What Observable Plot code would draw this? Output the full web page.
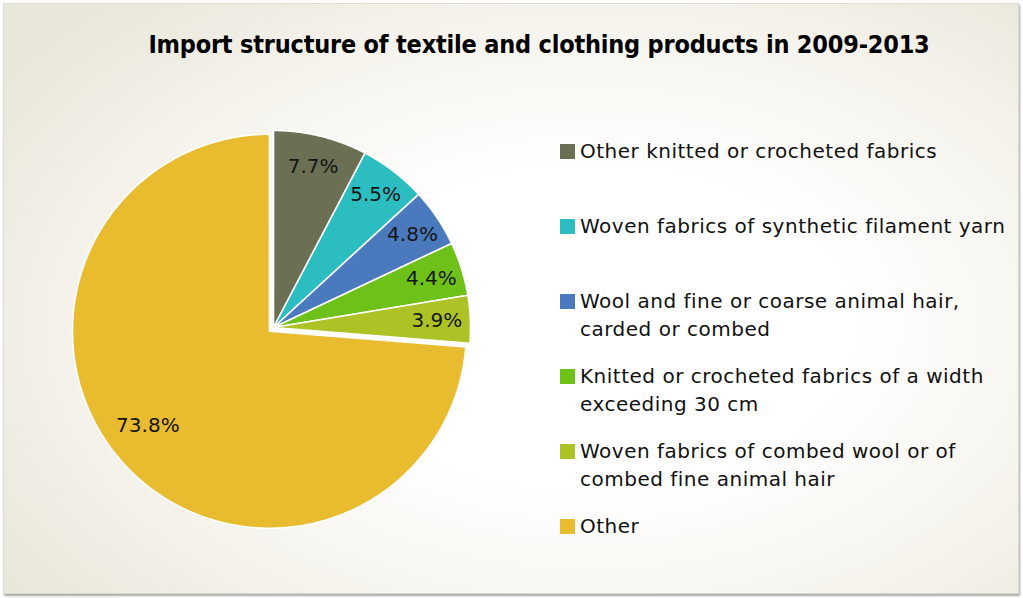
<!DOCTYPE html>
<html>
<head>
<meta charset="utf-8">
<script src="https://cdn.jsdelivr.net/npm/d3@7"></script>
<script src="https://cdn.jsdelivr.net/npm/@observablehq/plot@0.6"></script>
<style>
  html, body { margin: 0; padding: 0; background: #ffffff; }
  #wrap { position: relative; width: 1023px; height: 598px; overflow: hidden; }
  #frame {
    position: absolute; left: 3px; top: 3px; width: 1014px; height: 589px;
    border: 1px solid #dcdad2;
    background: radial-gradient(ellipse 70% 75% at 58% 55%, #ffffff 35%, #f5f3ec 70%, #e9e6da 100%);
    box-shadow: 1px 2px 2px rgba(0,0,0,0.35);
  }
  #title {
    position: absolute; left: 0; width: 1078px; top: 30px; text-align: center;
    font-family: "Liberation Sans Narrow", "DejaVu Sans Condensed", "Liberation Sans", sans-serif;
    font-weight: bold; font-size: 25px; color: #000; white-space: nowrap; letter-spacing: -0.2px;
  }
  #chart { position: absolute; left: 0; top: 0; }
  #legend { position: absolute; left: 560px; top: 138px; font-family: "DejaVu Sans", sans-serif; font-size: 20px; letter-spacing: 0.5px; color: #111; }
  .item { position: relative; height: 75px; line-height: 27.5px; padding-left: 20px; white-space: nowrap; }
  .sw { position: absolute; left: 0; top: 6px; width: 15px; height: 15px; }
</style>
</head>
<body>
<div id="wrap">
  <div id="frame"></div>
  <div id="chart"></div>
  <div id="title">Import structure of textile and clothing products in 2009-2013</div>
  <div id="legend"></div>
</div>
<script>
// ---- data ----
const categories = [
  "Other knitted or crocheted fabrics",
  "Woven fabrics of synthetic filament yarn",
  "Wool and fine or coarse animal hair, carded or combed",
  "Knitted or crocheted fabrics of a width exceeding 30 cm",
  "Woven fabrics of combed wool or of combed fine animal hair",
  "Other"
];
const legendLines = [
  ["Other knitted or crocheted fabrics"],
  ["Woven fabrics of synthetic filament yarn"],
  ["Wool and fine or coarse animal hair,", "carded or combed"],
  ["Knitted or crocheted fabrics of a width", "exceeding 30 cm"],
  ["Woven fabrics of combed wool or of", "combed fine animal hair"],
  ["Other"]
];
const shares = [7.7, 5.5, 4.8, 4.4, 3.9, 73.8];
const labels = ["7.7%", "5.5%", "4.8%", "4.4%", "3.9%", "73.8%"];
const colors = ["#6b6f54", "#2bbdc0", "#4a7abd", "#6dc118", "#adc225", "#e9bb2f"];
const explode = [0, 0, 0, 0, 0, 0.028];            // fraction of radius
const labelRadius = [0.84, 0.85, 0.85, 0.84, 0.83, 0.78];
const labelAngleShift = [0, 0, 0, 0, 0, 5];        // degrees

// ---- geometry in data units (radius = 1, center = 0,0, y up) ----
const arcs = d3.pie().sort(null).value(d => d)(shares);
const polys = [];
const labelPts = [];
arcs.forEach((a, i) => {
  const mid = (a.startAngle + a.endAngle) / 2;
  const ox = explode[i] * Math.sin(mid), oy = explode[i] * Math.cos(mid);
  polys.push({name: categories[i], x: ox, y: oy});
  const n = Math.max(8, Math.ceil((a.endAngle - a.startAngle) / 0.005));
  for (let k = 0; k <= n; k++) {
    const t = a.startAngle + (a.endAngle - a.startAngle) * k / n;
    polys.push({name: categories[i], x: ox + Math.sin(t), y: oy + Math.cos(t)});
  }
  const lm = mid + labelAngleShift[i] * Math.PI / 180;
  labelPts.push({
    text: labels[i],
    x: ox + labelRadius[i] * Math.sin(lm),
    y: oy + labelRadius[i] * Math.cos(lm)
  });
});

const R = 197, cx = 273, cy = 327, W = 1023, H = 598;
const chart = Plot.plot({
  width: W, height: H,
  marginTop: 0, marginRight: 0, marginBottom: 0, marginLeft: 0,
  style: {background: "transparent", overflow: "visible"},
  x: {domain: [-cx / R, (W - cx) / R], axis: null},
  y: {domain: [-(H - cy) / R, cy / R], axis: null},
  color: {domain: categories, range: colors},
  marks: [
    Plot.line(polys, {x: "x", y: "y", z: "name", fill: "name", stroke: "#ffffff", strokeWidth: 1.6, curve: "linear-closed"}),
    Plot.text(labelPts, {x: "x", y: "y", text: "text", fontSize: 20, fill: "#151515",
      fontFamily: "'DejaVu Sans', sans-serif"})
  ]
});
document.getElementById("chart").appendChild(chart);

// legend
const lg = document.getElementById("legend");
categories.forEach((c, i) => {
  const it = document.createElement("div");
  it.className = "item";
  const sw = document.createElement("div");
  sw.className = "sw"; sw.style.background = colors[i];
  it.appendChild(sw);
  legendLines[i].forEach(l => {
    const d = document.createElement("div");
    d.textContent = l;
    it.appendChild(d);
  });
  lg.appendChild(it);
});
</script>
</body>
</html>
